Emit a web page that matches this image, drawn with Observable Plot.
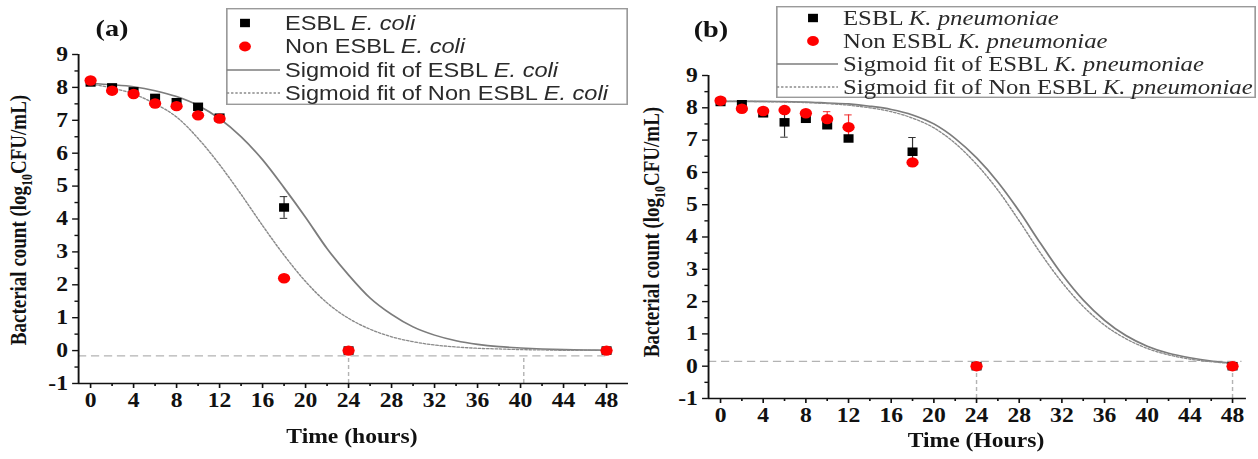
<!DOCTYPE html>
<html>
<head>
<meta charset="utf-8">
<script src="https://cdn.jsdelivr.net/npm/d3@7"></script>
<script src="https://cdn.jsdelivr.net/npm/@observablehq/plot@0.6"></script>
<style>
  html, body { margin: 0; padding: 0; background: #fff; overflow: hidden; }
  #wrap { position: absolute; left: 0; top: 0; height: 459px; transform-origin: 0 0; background: #fff; }
  .abs { position: absolute; top: 0; }
</style>
</head>
<body>
<div id="wrap"></div>
<script>
// ---------------- DATA ----------------
const hours = [0, 2, 4, 6, 8, 10, 12, 18, 24, 48];

// Panel (a) E. coli
const esblEcoli       = [8.15, 8.00, 7.88, 7.68, 7.55, 7.41, 7.08, 4.35, 0, 0];
const esblEcoliErr    = [0.03, 0.03, 0.03, 0.05, 0.03, 0.03, 0.05, 0.33, 0, 0];
const nonEsblEcoli    = [8.21, 7.90, 7.80, 7.51, 7.43, 7.15, 7.05, 2.20, 0, 0];
const nonEsblEcoliErr = [0.03, 0.03, 0.03, 0.05, 0.05, 0.03, 0.03, 0.03, 0, 0];

// Panel (b) K. pneumoniae
const esblKp       = [8.18, 8.11, 7.83, 7.55, 7.66, 7.46, 7.05, 6.64, 0, 0];
const esblKpErr    = [0.03, 0.03, 0.10, 0.46, 0.05, 0.05, 0.05, 0.44, 0, 0];
const nonEsblKp    = [8.22, 7.97, 7.90, 7.93, 7.83, 7.65, 7.40, 6.31, 0, 0];
const nonEsblKpErr = [0.03, 0.03, 0.05, 0.05, 0.05, 0.23, 0.38, 0.05, 0, 0];

// Sigmoid fit curves, every 2 h
const fitHours = [0,2,4,6,8,10,12,14,16,18,20,22,24,26,28,30,32,34,36,38,40,42,44,46,48];
const fitEsblEcoli    = [8.12,8.08,8.02,7.90,7.72,7.45,7.05,6.50,5.80,4.95,4.05,3.10,2.30,1.60,1.10,0.72,0.47,0.30,0.19,0.12,0.08,0.05,0.03,0.02,0.01];
const fitNonEsblEcoli = [8.10,7.98,7.80,7.50,7.10,6.45,5.65,4.75,3.80,2.90,2.10,1.45,0.98,0.65,0.42,0.27,0.17,0.11,0.07,0.05,0.03,0.02,0.01,0.01,0.00];
const fitEsblKp       = [8.20,8.20,8.20,8.19,8.18,8.15,8.12,8.05,7.95,7.78,7.50,7.05,6.45,5.70,4.80,3.80,2.85,2.05,1.42,0.95,0.62,0.40,0.26,0.16,0.10];
const fitNonEsblKp    = [8.20,8.20,8.19,8.18,8.16,8.13,8.08,8.00,7.88,7.68,7.38,6.90,6.25,5.45,4.50,3.50,2.60,1.85,1.27,0.85,0.55,0.35,0.22,0.14,0.08];

// Dashed guide lines in the picture
const guideHa = [{y: -0.16, x1: -1.12, x2: 48}];
const guideVa = [{x: 24, y1: -1, y2: -0.16}, {x: 40.3, y1: -1, y2: -0.16}];
const guideHb = [{y: 0.15, x1: -1.12, x2: 48.9}];
const guideVb = [{x: 24, y1: -1, y2: 0}, {x: 48, y1: -1, y2: 0}];

// Axis ticks
const xTicks = [0,4,8,12,16,20,24,28,32,36,40,44,48];
const xMinor = [2,6,10,14,18,22,26,30,34,38,42,46];
const yTicks = [-1,0,1,2,3,4,5,6,7,8,9];
const yMinor = [-0.5,0.5,1.5,2.5,3.5,4.5,5.5,6.5,7.5,8.5];

// Text
const panelA = {tag: "(a)", xTitle: "Time (hours)",
  legend: [["ESBL ", "E. coli"], ["Non ESBL ", "E. coli"], ["Sigmoid fit of ESBL ", "E. coli"], ["Sigmoid fit of Non ESBL ", "E. coli"]]};
const panelB = {tag: "(b)", xTitle: "Time (Hours)",
  legend: [["ESBL ", "K. pneumoniae"], ["Non ESBL ", "K. pneumoniae"], ["Sigmoid fit of ESBL ", "K. pneumoniae"], ["Sigmoid fit of Non ESBL ", "K. pneumoniae"]]};

// ---------------- LAYOUT ----------------
const S = 1.18;               // horizontal stretch of the original picture
const W = 1258 / S;
const wrap = document.getElementById("wrap");
wrap.style.width = W + "px";
wrap.style.transform = `scaleX(${S})`;

const rows = (xs, ys, es) => xs.map((t, i) => ({t, v: ys[i], e: es ? es[i] : 0}));

const SERIF = "'Liberation Serif','Times New Roman',serif";
const tickFont = {fontFamily: SERIF, fontSize: 20, fontWeight: "bold", fill: "#111"};

function makePanel(cfg) {
  const pw = 629 / S;
  const black = rows(hours, cfg.black, cfg.blackErr);
  const red = rows(hours, cfg.red, cfg.redErr);
  const fit1 = rows(fitHours, cfg.fit1);
  const fit2 = rows(fitHours, cfg.fit2);
  const xDom = cfg.xDom;
  const svg = Plot.plot({
    width: pw, height: 459,
    marginLeft: cfg.ml, marginRight: cfg.mr, marginTop: cfg.mt, marginBottom: cfg.mb,
    x: {domain: xDom, label: null},
    y: {domain: [-1, 9], label: null},
    style: {fontFamily: SERIF, fontSize: "20px", fontWeight: "bold", color: "#111", background: "transparent", overflow: "visible"},
    marks: [
      Plot.ruleY(cfg.guideH, {y: "y", x1: "x1", x2: "x2", stroke: "#b3b3b3", strokeWidth: 1.2, strokeDasharray: "7,4"}),
      Plot.ruleX(cfg.guideV, {x: "x", y1: "y1", y2: "y2", stroke: "#b3b3b3", strokeWidth: 1.2, strokeDasharray: "4,3"}),
      Plot.line(fit1, {x: "t", y: "v", stroke: "#7c7c7c", strokeWidth: 1.6, curve: "monotone-x"}),
      Plot.line(fit2, {x: "t", y: "v", stroke: "#8a8a8a", strokeWidth: 1.3, strokeDasharray: "2,1.6", curve: "monotone-x"}),
      // error bars: red first so they sit beneath the black squares
      Plot.ruleX(red.filter(d => d.e > 0), {x: "t", y1: d => d.v - d.e, y2: d => d.v + d.e, stroke: "#f03030", strokeWidth: 1}),
      Plot.ruleY(red.filter(d => d.e > 0), {y: d => d.v + d.e, x1: d => d.t - 0.35, x2: d => d.t + 0.35, stroke: "#f03030", strokeWidth: 1}),
      Plot.ruleY(red.filter(d => d.e > 0), {y: d => d.v - d.e, x1: d => d.t - 0.35, x2: d => d.t + 0.35, stroke: "#f03030", strokeWidth: 1}),
      Plot.ruleX(black.filter(d => d.e > 0), {x: "t", y1: d => d.v - d.e, y2: d => d.v + d.e, stroke: "#333", strokeWidth: 1}),
      Plot.ruleY(black.filter(d => d.e > 0), {y: d => d.v + d.e, x1: d => d.t - 0.35, x2: d => d.t + 0.35, stroke: "#333", strokeWidth: 1}),
      Plot.ruleY(black.filter(d => d.e > 0), {y: d => d.v - d.e, x1: d => d.t - 0.35, x2: d => d.t + 0.35, stroke: "#333", strokeWidth: 1}),
      Plot.dot(black, {x: "t", y: "v", symbol: "square", r: 4.8, fill: "#000", stroke: "none"}),
      Plot.dot(red, {x: "t", y: "v", r: 5.2, fill: "#ff0000", stroke: "none"}),
      // axes
      Plot.axisX(xTicks, {tickSize: 5, tickPadding: 4, tickFormat: d => String(d), label: null, stroke: "#111", strokeWidth: 1.4, ...tickFont}),
      Plot.axisX(xMinor, {tickSize: 3, tickFormat: () => "", label: null, stroke: "#111", strokeWidth: 1.4}),
      Plot.axisY(yTicks, {tickSize: 5, tickPadding: 4, tickFormat: d => String(d), label: null, stroke: "#111", strokeWidth: 1.4, ...tickFont}),
      Plot.axisY(yMinor, {tickSize: 3, tickFormat: () => "", label: null, stroke: "#111", strokeWidth: 1.4}),
      Plot.ruleY([-1], {stroke: "#111", strokeWidth: 1.6}),
      Plot.ruleX([xDom[0]], {stroke: "#111", strokeWidth: 1.6})
    ]
  });
  svg.classList.add("abs");
  svg.style.left = cfg.left + "px";
  wrap.appendChild(svg);
}

makePanel({
  left: 0, xDom: [-1.116, 50.05], ml: 78 / S, mr: 1 / S, mt: 54, mb: 76,
  black: esblEcoli, blackErr: esblEcoliErr, red: nonEsblEcoli, redErr: nonEsblEcoliErr,
  fit1: fitEsblEcoli, fit2: fitNonEsblEcoli, guideH: guideHa, guideV: guideVa
});
makePanel({
  left: 629 / S, xDom: [-1.125, 49.31], ml: 79 / S, mr: 12 / S, mt: 75, mb: 61,
  black: esblKp, blackErr: esblKpErr, red: nonEsblKp, redErr: nonEsblKpErr,
  fit1: fitEsblKp, fit2: fitNonEsblKp, guideH: guideHb, guideV: guideVb
});

// ---------------- overlay: titles, panel tags, legends ----------------
const ov = d3.select(wrap).append("svg")
  .attr("class", "abs").style("left", "0px")
  .attr("width", W).attr("height", 459)
  .style("overflow", "visible");

function yTitle(x, y) {
  const t = ov.append("text")
    .attr("transform", `translate(${x},${y}) rotate(-90)`)
    .attr("text-anchor", "middle").attr("dy", "0.35em")
    .attr("font-family", SERIF).attr("font-weight", "bold").attr("font-size", 19).attr("fill", "#111");
  t.append("tspan").text("Bacterial count (log");
  t.append("tspan").attr("dy", 5).attr("font-size", 12).text("10");
  t.append("tspan").attr("dy", -5).text("CFU/mL)");
}
function xTitle(x, y, s) {
  ov.append("text").attr("x", x).attr("y", y).attr("text-anchor", "middle")
    .attr("font-family", SERIF).attr("font-weight", "bold").attr("font-size", 20).attr("fill", "#111").text(s);
}
function tag(x, y, s) {
  ov.append("text").attr("x", x).attr("y", y).attr("text-anchor", "middle").attr("dy", "0.35em")
    .attr("font-family", SERIF).attr("font-weight", "bold").attr("font-size", 24).attr("fill", "#111").text(s);
}

yTitle(18 / S, 220);
yTitle(651 / S, 232);
xTitle(352 / S, 443, panelA.xTitle);
xTitle(976 / S, 447, panelB.xTitle);
tag(112 / S, 28, panelA.tag);
tag(711 / S, 29, panelB.tag);

function legend(cfg) {
  const g = ov.append("g").attr("transform", `translate(${cfg.x0 / S},${cfg.y0})`);
  const w = (cfg.x1 - cfg.x0) / S, h = cfg.y1 - cfg.y0;
  g.append("rect").attr("x", 0.7).attr("y", 0.7).attr("width", w - 1.4).attr("height", h - 1.4)
    .attr("fill", "#fff").attr("stroke", "#9a9a9a").attr("stroke-width", 1.4);
  const mx = (cfg.marker - cfg.x0) / S, lx = (cfg.lineEnd - cfg.x0) / S, tx = (cfg.text - cfg.x0) / S;
  cfg.rows.forEach((ry, i) => {
    const y = ry - cfg.y0;
    if (i === 0) g.append("rect").attr("x", mx - 4.2).attr("y", y - 4.2).attr("width", 8.4).attr("height", 8.4).attr("fill", "#000");
    if (i === 1) g.append("circle").attr("cx", mx).attr("cy", y).attr("r", 5).attr("fill", "#ff0000");
    if (i === 2) g.append("line").attr("x1", 0.7).attr("x2", lx).attr("y1", y).attr("y2", y).attr("stroke", "#7c7c7c").attr("stroke-width", 1.6);
    if (i === 3) g.append("line").attr("x1", 0.7).attr("x2", lx).attr("y1", y).attr("y2", y).attr("stroke", "#8a8a8a").attr("stroke-width", 1.3).attr("stroke-dasharray", "2,1.6");
    const t = g.append("text").attr("x", tx).attr("y", y).attr("dy", "0.35em")
      .attr("font-family", cfg.font).attr("font-size", cfg.size).attr("fill", "#2a2a2a");
    t.append("tspan").text(cfg.labels[i][0]);
    t.append("tspan").attr("font-style", "italic").text(cfg.labels[i][1]);
  });
}

legend({x0: 226, x1: 628, y0: 8, y1: 105, rows: [23, 46.5, 70, 93], marker: 245, lineEnd: 280, text: 285,
  font: "'Liberation Sans', Arial, sans-serif", size: 20, labels: panelA.legend});
legend({x0: 776, x1: 1256, y0: 6, y1: 98, rows: [18, 41, 64, 87], marker: 813, lineEnd: 838, text: 843,
  font: SERIF, size: 21, labels: panelB.legend});
</script>
</body>
</html>
